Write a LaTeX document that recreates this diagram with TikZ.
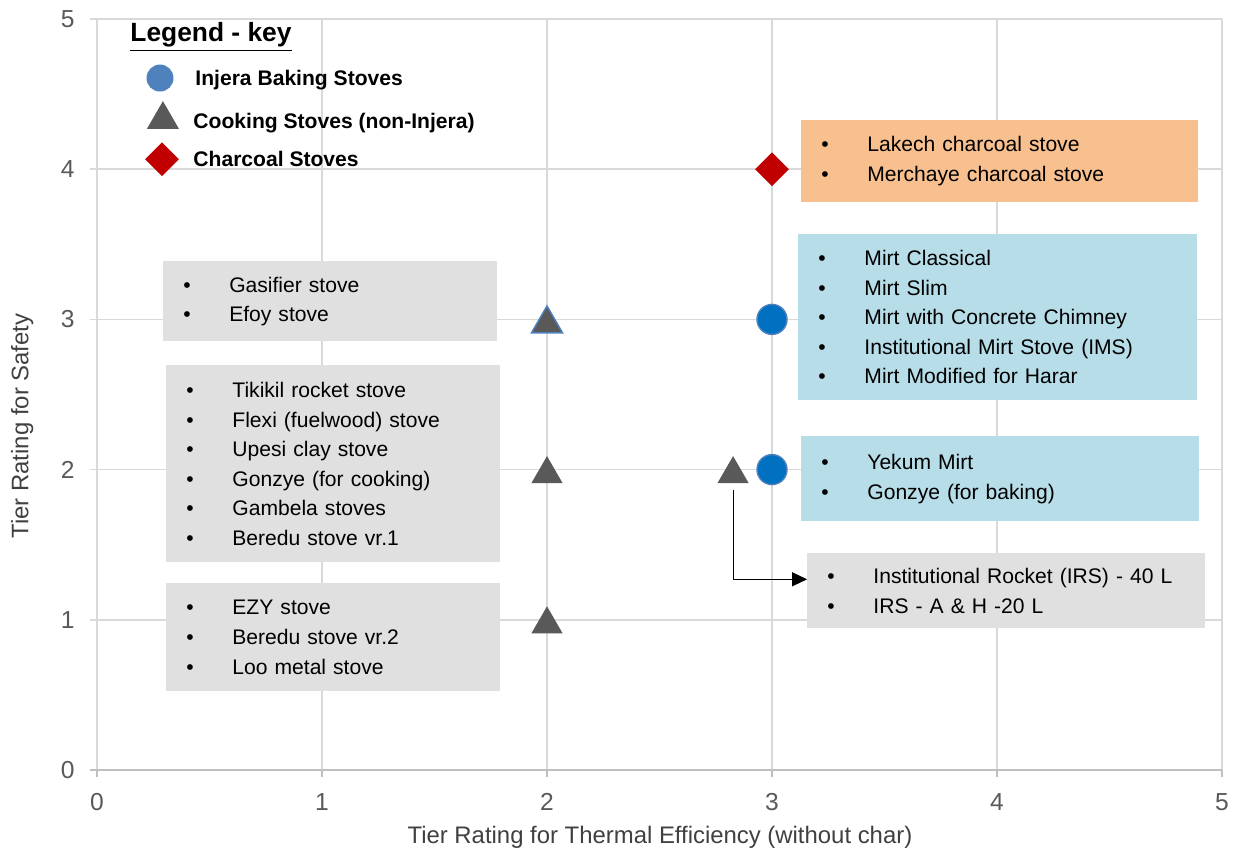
\documentclass[tikz,border=0pt]{standalone}
\usepackage{fontspec}
\setmainfont{Liberation Sans}
\usetikzlibrary{shapes.geometric,arrows.meta}
\definecolor{gridgray}{HTML}{D9D9D9}
\definecolor{axisgray}{HTML}{BFBFBF}
\definecolor{ticktext}{HTML}{595959}
\definecolor{titletext}{HTML}{404040}
\definecolor{boxgray}{HTML}{E0E0E0}
\definecolor{boxorange}{HTML}{F9C08F}
\definecolor{boxblue}{HTML}{B7DDE8}
\definecolor{injblue}{HTML}{0070C0}
\definecolor{injedge}{HTML}{4F81BD}
\definecolor{legblue}{HTML}{4F81BD}
\definecolor{cookgray}{HTML}{595959}
\definecolor{charred}{HTML}{C00000}
\newcommand{\stovebul}{\makebox[0.92cm][l]{\textbullet}}

\begin{document}
\begin{tikzpicture}[x=4.5cm,y=3.004cm,
  gridline/.style={gridgray,line width=1pt},
  axisline/.style={axisgray,line width=1pt},
  ticklbl/.style={text=ticktext,font=\fontsize{14}{16}\selectfont,inner sep=0pt},
  axtitle/.style={text=titletext,font=\fontsize{13.6}{16}\selectfont,inner sep=0pt},
  legtext/.style={anchor=base west,inner sep=0pt,font=\fontsize{12}{14}\selectfont\bfseries},
  listbox/.style={anchor=north west,inner xsep=0.4cm,inner ysep=0pt,align=left,
    font=\fontsize{12}{16.8}\selectfont},
  injera/.style={circle,fill=injblue,draw=injedge,line width=0.8pt,minimum size=0.6cm,inner sep=0pt},
  cooking/.style={regular polygon,regular polygon sides=3,fill=cookgray,minimum size=0.72cm,
    inner sep=0pt,yshift=-0.09cm},
  charcoal/.style={diamond,fill=charred,minimum size=0.68cm,inner sep=0pt}]
  \useasboundingbox (-0.4311,-0.546) rectangle (5.0533,5.1265);

  % grid and axes
  \draw[gridline] (0,0) -- (0,5);
  \foreach \i in {1,...,5} {
    \draw[gridline] (-0.031,\i) -- (5,\i);
    \draw[gridline] (\i,0) -- (\i,5);
  }
  \draw[axisline] (-0.031,0) -- (5,0);
  \foreach \i in {0,...,5} {
    \draw[axisline] (\i,0) -- (\i,-0.0466);
    \node[ticklbl,anchor=east] (ytick\i) at (-0.098,\i) {\i};
    \node[ticklbl] (xtick\i) at (\i,-0.213) {\i};
  }
  \node[axtitle] (xtitle) at (2.502,-0.446) {Tier Rating for Thermal Efficiency (without char)};
  \node[axtitle,rotate=90] (ytitle) at (-0.333,2.29) {Tier Rating for Safety};

  % legend
  \node[anchor=base west,inner sep=0pt,font=\fontsize{15}{17}\selectfont\bfseries]
    (legtitle) at (0.147,4.847) {\underline{Legend - key}};
  \node[circle,fill=legblue,minimum size=0.54cm,inner sep=0pt] (leginj) at (0.28,4.607) {};
  \node[cooking,minimum size=0.74cm] (legcook) at (0.293,4.36) {};
  \node[charcoal] (legchar) at (0.289,4.066) {};
  \node[legtext] (leginjtxt) at (0.436,4.554) {Injera Baking Stoves};
  \node[legtext] (legcooktxt) at (0.427,4.268) {Cooking Stoves (non-Injera)};
  \node[legtext] (legchartxt) at (0.427,4.015) {Charcoal Stoves};

  % label boxes
  \node[listbox,fill=boxgray,minimum width=6.68cm,minimum height=1.6cm,text width=5.88cm]
    (gasbox) at (0.293,3.389) {\stovebul Gasifier stove\\\stovebul Efoy stove};
  \node[listbox,fill=boxgray,minimum width=6.68cm,minimum height=3.94cm,text width=5.88cm]
    (tikbox) at (0.307,2.696) {\stovebul Tikikil rocket stove\\\stovebul Flexi (fuelwood) stove\\
    \stovebul Upesi clay stove\\\stovebul Gonzye (for cooking)\\\stovebul Gambela stoves\\
    \stovebul Beredu stove vr.1};
  \node[listbox,fill=boxgray,minimum width=6.68cm,minimum height=2.16cm,text width=5.88cm]
    (ezybox) at (0.307,1.245) {\stovebul EZY stove\\\stovebul Beredu stove vr.2\\\stovebul Loo metal stove};
  \node[listbox,fill=boxorange,minimum width=7.94cm,minimum height=1.64cm,text width=7.14cm]
    (charbox) at (3.129,4.328) {\stovebul Lakech charcoal stove\\\stovebul Merchaye charcoal stove};
  \node[listbox,fill=boxblue,minimum width=7.98cm,minimum height=3.32cm,text width=7.18cm]
    (mirtbox) at (3.116,3.569) {\stovebul Mirt Classical\\\stovebul Mirt Slim\\
    \stovebul Mirt with Concrete Chimney\\\stovebul Institutional Mirt Stove (IMS)\\
    \stovebul Mirt Modified for Harar};
  \node[listbox,fill=boxblue,minimum width=7.96cm,minimum height=1.7cm,text width=7.16cm]
    (yekbox) at (3.129,2.224) {\stovebul Yekum Mirt\\\stovebul Gonzye (for baking)};
  \node[listbox,fill=boxgray,minimum width=7.96cm,minimum height=1.5cm,text width=7.16cm]
    (irsbox) at (3.156,1.445) {\stovebul Institutional Rocket (IRS) - 40 L\\\stovebul IRS - A \& H -20 L};

  % data points
  \node[cooking,draw=injedge,line width=0.8pt] (cook23) at (2,3) {};
  \node[cooking] (cook22) at (2,2) {};
  \node[cooking] (cook21) at (2,1) {};
  \node[cooking] (cookirs) at (2.827,2) {};
  \node[injera] (inj33) at (3,3) {};
  \node[injera] (inj32) at (3,2) {};
  \node[charcoal] (char34) at (3,4) {};

  \draw[black,line width=0.6pt,shorten <=0.14cm,-{Triangle[length=0.3cm,width=0.28cm]}]
    (cookirs.south) |- ([yshift=0.23cm]irsbox.west);
\end{tikzpicture}
\end{document}
